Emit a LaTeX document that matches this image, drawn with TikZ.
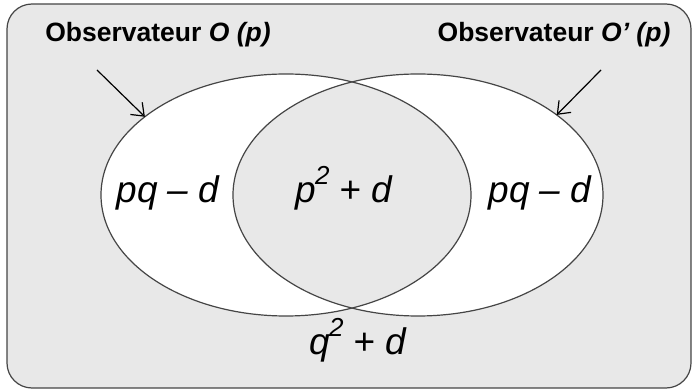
\documentclass[tikz,border=0pt]{standalone}
\usepackage{fontspec}
\setmainfont{Liberation Sans}
\usetikzlibrary{shapes.geometric,arrows.meta}
\definecolor{hgrau}{HTML}{E8E8E8}
\definecolor{randfarbe}{HTML}{454545}
\newcommand\hoch[1]{\kern-1pt\raisebox{18pt}{\fontsize{26}{26}\selectfont #1}}
\begin{document}
\begin{tikzpicture}[x=1pt, y=-1pt,
        >={Straight Barb[length=11pt,width=17pt]},   %Pfeilspitzen
        menge/.style={ellipse, minimum width=370pt, minimum height=242pt, inner sep=0pt, outer sep=0pt},
        rand/.style={draw=randfarbe, line width=1.2pt},
        formel/.style={font=\fontsize{37}{37}\selectfont\itshape, anchor=base, inner sep=0pt},
        titel/.style={font=\fontsize{26.5}{26.5}\selectfont\bfseries, anchor=base, inner sep=0pt}]
        %Bildbereich
        \useasboundingbox (0,0) rectangle (694,390);
        \draw[rand, fill=hgrau, rounded corners=25pt] (7,4) rectangle (691,388);
        %Mengen
        \node[menge, fill=white] (obsO) at (286,195) {};
        \node[menge, fill=white] (obsOp) at (418,195) {};
        %Schnittmenge
        \begin{scope}
            \clip (obsO.center) ellipse [x radius=185, y radius=121];
            \fill[hgrau] (obsOp.center) ellipse [x radius=185, y radius=121];
        \end{scope}
        \draw[rand] (obsO.center) ellipse [x radius=185, y radius=121];
        \draw[rand] (obsOp.center) ellipse [x radius=185, y radius=121];
        %Beobachter
        \node[titel] (tO) at (158,42) {Observateur \textit{O (p)}};
        \node[titel] (tOp) at (554,42) {Observateur \textit{O’ (p)}};
        \coordinate (pfO) at (97,70);
        \coordinate (pfOp) at (601,70);
        \draw[->, line width=1.2pt] (pfO) -- (obsO.151);
        \draw[->, line width=1.2pt] (pfOp) -- (obsOp.30);
        %Wahrscheinlichkeiten
        \node[formel] (links) at (168,203) {pq – d};
        \node[formel] (mitte) at (344,203) {p\hoch{2} + d};
        \node[formel] (rechts) at (540,203) {pq – d};
        \node[formel] (unten) at (358,355) {q\hoch{2} + d};
    \end{tikzpicture}
\end{document}
